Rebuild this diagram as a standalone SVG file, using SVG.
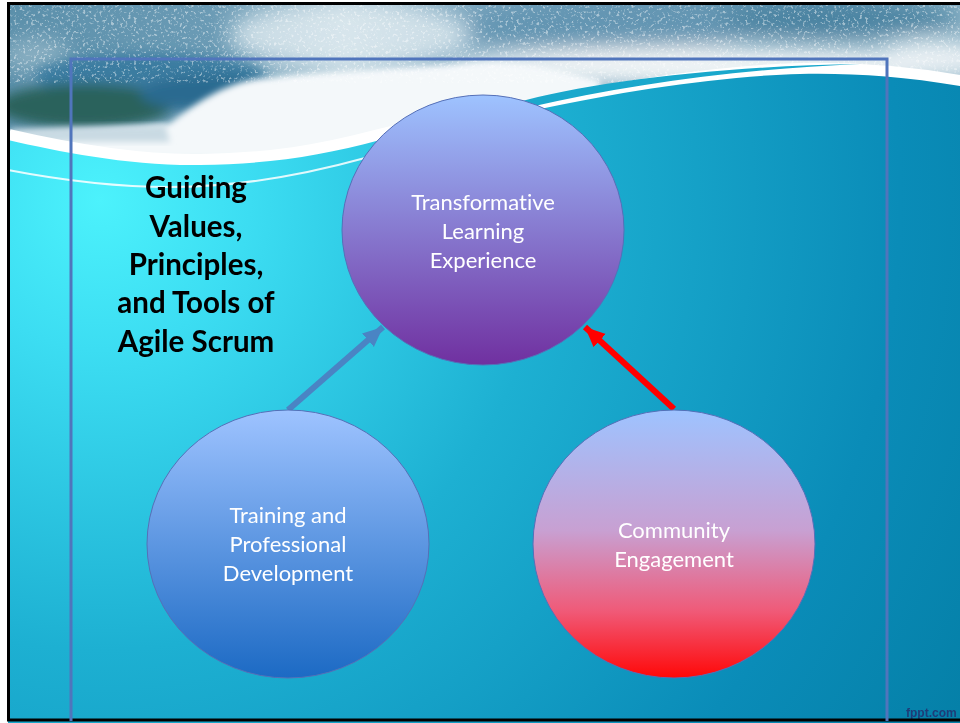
<svg xmlns="http://www.w3.org/2000/svg" width="960" height="723" viewBox="0 0 960 723">
<defs>
<radialGradient id="sea" cx="100" cy="200" r="1000" gradientUnits="userSpaceOnUse">
<stop offset="0" stop-color="#4CF2FC"/>
<stop offset="0.15" stop-color="#3CDDF2"/>
<stop offset="0.45" stop-color="#1DB0D2"/>
<stop offset="0.8" stop-color="#0A8CB8"/>
<stop offset="1" stop-color="#0580A8"/>
</radialGradient>
<linearGradient id="sky" x1="0" y1="0" x2="960" y2="0" gradientUnits="userSpaceOnUse">
<stop offset="0" stop-color="#5A8FAA"/>
<stop offset="0.22" stop-color="#6B9BB5"/>
<stop offset="0.36" stop-color="#B8D0DC"/>
<stop offset="0.5" stop-color="#7AA5BE"/>
<stop offset="0.85" stop-color="#5F92AE"/>
<stop offset="1" stop-color="#8AB2C6"/>
</linearGradient>
<linearGradient id="gTop" x1="0" y1="0" x2="0" y2="1">
<stop offset="0" stop-color="#9EC3FF"/>
<stop offset="1" stop-color="#7030A0"/>
</linearGradient>
<linearGradient id="gLeft" x1="0" y1="0" x2="0" y2="1">
<stop offset="0" stop-color="#9EC3FF"/>
<stop offset="1" stop-color="#1C6AC4"/>
</linearGradient>
<linearGradient id="gRight" x1="0" y1="0" x2="0" y2="1">
<stop offset="0" stop-color="#9EC3FF"/>
<stop offset="0.45" stop-color="#C8A0D2"/>
<stop offset="0.75" stop-color="#F05A78"/>
<stop offset="1" stop-color="#FF0808"/>
</linearGradient>
<filter id="blur" x="-20%" y="-50%" width="140%" height="200%"><feGaussianBlur stdDeviation="10"/></filter>
<filter id="blurM" x="-20%" y="-50%" width="140%" height="200%"><feGaussianBlur stdDeviation="6"/></filter>
<filter id="blurS" x="-10%" y="-20%" width="120%" height="140%"><feGaussianBlur stdDeviation="3"/></filter>
<filter id="spray" x="0" y="0" width="100%" height="100%">
<feTurbulence type="fractalNoise" baseFrequency="0.35" numOctaves="2" seed="7"/>
<feColorMatrix type="matrix" values="0 0 0 0 1  0 0 0 0 1  0 0 0 0 1  6 0 0 0 -3.4"/>
</filter>
<clipPath id="topClip"><rect x="8" y="3" width="952" height="170"/></clipPath>
<marker id="headBlue" markerUnits="userSpaceOnUse" markerWidth="22" markerHeight="20" refX="20" refY="10" orient="auto">
<path d="M0,1 L20,10 L0,19 Z" fill="#4A84C4"/>
</marker>
<marker id="headRed" markerUnits="userSpaceOnUse" markerWidth="22" markerHeight="20" refX="20" refY="10" orient="auto">
<path d="M0,1 L20,10 L0,19 Z" fill="#FF0000"/>
</marker>
<style>
.node ellipse { stroke: #5570B8; stroke-width: 1; }
.lbl { font-family: Lato, "Open Sans", "Liberation Sans", sans-serif; font-size: 22px; fill: #FFFFFF; text-anchor: middle; font-variant-ligatures: none; }
.title { font-family: Lato, "Open Sans", "Liberation Sans", sans-serif; font-size: 29.5px; font-weight: bold; fill: #000000; text-anchor: middle; }
</style>
</defs>

<!-- background -->
<rect x="0" y="0" width="960" height="723" fill="#FFFFFF"/>
<g clip-path="url(#topClip)">
<rect x="8" y="3" width="952" height="170" fill="url(#sky)"/>
<g filter="url(#blur)">
<ellipse cx="35" cy="55" rx="35" ry="18" fill="#B4CCD8" opacity="0.5"/>
<ellipse cx="350" cy="35" rx="120" ry="32" fill="#E2ECF1" opacity="0.75"/>
<ellipse cx="610" cy="25" rx="140" ry="25" fill="#6495B2"/>
<ellipse cx="840" cy="18" rx="120" ry="14" fill="#4A82A0"/>
<ellipse cx="720" cy="66" rx="270" ry="20" fill="#F0F4F6"/>
<ellipse cx="930" cy="58" rx="60" ry="18" fill="#E8EFF3"/>
</g>
<g filter="url(#blurM)">
<ellipse cx="150" cy="76" rx="115" ry="22" fill="#3A7CA0"/>
<ellipse cx="85" cy="106" rx="88" ry="22" fill="#2A625C"/>
<ellipse cx="215" cy="94" rx="75" ry="18" fill="#2B6A90"/>
</g>
<path d="M10,135 C80,131 140,128 170,123 C195,104 225,82 262,78 C320,72 400,68 480,62 C520,60 560,70 600,80 L600,160 L10,160 Z" fill="#F4F8FA" filter="url(#blurS)"/>
<path d="M10,129 C60,127 110,126 165,125 L170,142 L10,142 Z" fill="#C9DAE3" filter="url(#blurS)"/>
<rect x="8" y="3" width="952" height="80" filter="url(#spray)" opacity="0.45"/>
</g>
<!-- white swoosh band -->
<path d="M8,140 C60,152 130,166 200,165 C270,164 320,156 380,140 C450,122 500,115 545,108 C620,92 720,76 800,74 C850,73 900,76 960,86" fill="none" stroke="#FFFFFF" stroke-width="22"/>
<!-- sea -->
<path d="M8,140 C60,152 130,166 200,165 C270,164 320,156 380,140 C450,122 500,115 545,108 C620,92 720,76 800,74 C850,73 900,76 960,86 L960,723 L8,723 Z" fill="url(#sea)"/>
<!-- cyan stripe -->
<path d="M515,103 C590,82 720,66 860,64 C740,69 630,84 530,107 Z" fill="#1AA8CC"/>
<!-- thin white line -->
<path d="M8,170 C60,180 120,187 170,187 C230,187 300,176 365,158 C390,150 410,144 430,138" fill="none" stroke="#FFFFFF" stroke-width="2" opacity="0.85"/>
<text x="906" y="717" font-family="Liberation Sans, Arial, sans-serif" font-size="12" font-weight="bold" fill="#1E3C78">fppt.com</text>
<!-- black frame -->
<rect x="8.5" y="3.5" width="960" height="716.5" fill="none" stroke="#000000" stroke-width="3"/>
<!-- blue frame -->
<path d="M71,721 V59 H887 V721" fill="none" stroke="#5075BC" stroke-width="3"/>

<!-- title -->
<g id="title">
<text class="title" x="196" y="198">Guiding</text>
<text class="title" x="196" y="237">Values,</text>
<text class="title" x="196" y="275">Principles,</text>
<text class="title" x="196" y="313">and Tools of</text>
<text class="title" x="196" y="352">Agile Scrum</text>
</g>

<!-- connectors -->
<g id="connectors">
<line x1="288" y1="410" x2="383" y2="327" stroke="#4A84C4" stroke-width="6" marker-end="url(#headBlue)"/>
<line x1="674" y1="409" x2="585" y2="327" stroke="#FF0000" stroke-width="6" marker-end="url(#headRed)"/>
</g>

<g id="node-transformative" class="node">
<ellipse cx="483" cy="230" rx="141" ry="135" fill="url(#gTop)"/>
<text class="lbl" x="483" y="210">Transformative</text>
<text class="lbl" x="483" y="239">Learning</text>
<text class="lbl" x="483" y="268">Experience</text>
</g>
<g id="node-training" class="node">
<ellipse cx="288" cy="544" rx="141" ry="134" fill="url(#gLeft)"/>
<text class="lbl" x="288" y="523">Training and</text>
<text class="lbl" x="288" y="552">Professional</text>
<text class="lbl" x="288" y="581">Development</text>
</g>
<g id="node-community" class="node">
<ellipse cx="674" cy="544" rx="141" ry="134" fill="url(#gRight)"/>
<text class="lbl" x="674" y="538">Community</text>
<text class="lbl" x="674" y="567">Engagement</text>
</g>
</svg>
